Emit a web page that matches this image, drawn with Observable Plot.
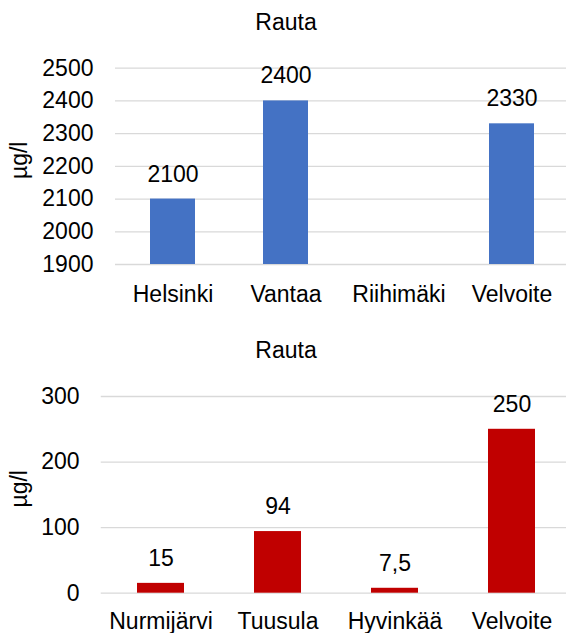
<!DOCTYPE html>
<html>
<head>
<meta charset="utf-8">
<script src="https://cdn.jsdelivr.net/npm/d3@7"></script>
<script src="https://cdn.jsdelivr.net/npm/@observablehq/plot@0.6"></script>
<style>
  body { margin: 0; background: #fff; }
  #wrap { position: relative; width: 566px; height: 633px; overflow: hidden; font-family: "Liberation Sans", Arial, sans-serif; }
  .title { position: absolute; left: 3px; width: 566px; text-align: center; font-size: 23px; line-height: 23px; color: #000; }
  .chart { position: absolute; left: 0; }
</style>
</head>
<body>
<div id="wrap">
  <div class="title" style="top:10.5px;">Rauta</div>
  <div class="chart" id="c1" style="top:40px;"></div>
  <div class="title" style="top:338.8px;">Rauta</div>
  <div class="chart" id="c2" style="top:380px;"></div>
</div>
<script>
// ---- data: top chart ----
const categoriesTop = ["Helsinki", "Vantaa", "Riihimäki", "Velvoite"];
const valuesTop = [2100, 2400, null, 2330];
const ticksTop = [1900, 2000, 2100, 2200, 2300, 2400, 2500];

// ---- data: bottom chart ----
const categoriesBottom = ["Nurmijärvi", "Tuusula", "Hyvinkää", "Velvoite"];
const valuesBottom = [15, 94, 7.5, 250];
const ticksBottom = [0, 100, 200, 300];

const yLabel = "µg/l";
const colorTop = "#4472C4";
const colorBottom = "#C00000";

const fmt = v => String(v).replace(".", ",");
const font = '"Liberation Sans", Arial, sans-serif';

function makeChart({categories, values, ticks, color, height, marginTop, marginBottom, marginLeft, xRange, yTickPad, xTickPad, labelDx, labelDy}) {
  const data = categories.map((c, i) => ({category: c, value: values[i]}));
  const present = data.filter(d => d.value != null);
  const base = ticks[0];
  return Plot.plot({
    width: 566,
    height,
    marginTop,
    marginBottom,
    marginLeft,
    marginRight: 0,
    style: {fontFamily: font, fontSize: "23px", color: "#000", background: "transparent", overflow: "visible"},
    x: {domain: categories, range: xRange, paddingInner: 0.6, paddingOuter: 0.3, align: 0.5, label: null},
    y: {domain: [ticks[0], ticks[ticks.length - 1]], label: null},
    marks: [
      Plot.gridY(ticks, {stroke: "#d9d9d9", strokeOpacity: 1, strokeWidth: 1.3}),
      Plot.barY(present, {x: "category", y1: base, y2: "value", fill: color}),
      Plot.text(present, {x: "category", y: "value", text: d => fmt(d.value), lineAnchor: "bottom", dy: -17.5, fontSize: 23, fill: "#000"}),
      Plot.axisY(ticks, {tickSize: 0, tickPadding: yTickPad, fontSize: 23, label: null, tickFormat: d => String(d)}),
      Plot.axisX({tickSize: 0, tickPadding: xTickPad, fontSize: 23, label: null}),
      Plot.text([yLabel], {frameAnchor: "left", textAnchor: "middle", lineAnchor: "middle", rotate: -90, dx: labelDx, dy: labelDy, fontSize: 23, fill: "#000"})
    ]
  });
}

document.getElementById("c1").appendChild(makeChart({
  categories: categoriesTop, values: valuesTop, ticks: ticksTop, color: colorTop,
  height: 280, marginTop: 27.7, marginBottom: 56, marginLeft: 115, xRange: [115, 570],
  yTickPad: 22, xTickPad: 21, labelDx: -96, labelDy: -6
}));

document.getElementById("c2").appendChild(makeChart({
  categories: categoriesBottom, values: valuesBottom, ticks: ticksBottom, color: colorBottom,
  height: 253, marginTop: 16, marginBottom: 40.3, marginLeft: 100.75, xRange: [100.75, 570.75],
  yTickPad: 21.7, xTickPad: 19, labelDx: -82, labelDy: -6
}));
</script>
</body>
</html>
